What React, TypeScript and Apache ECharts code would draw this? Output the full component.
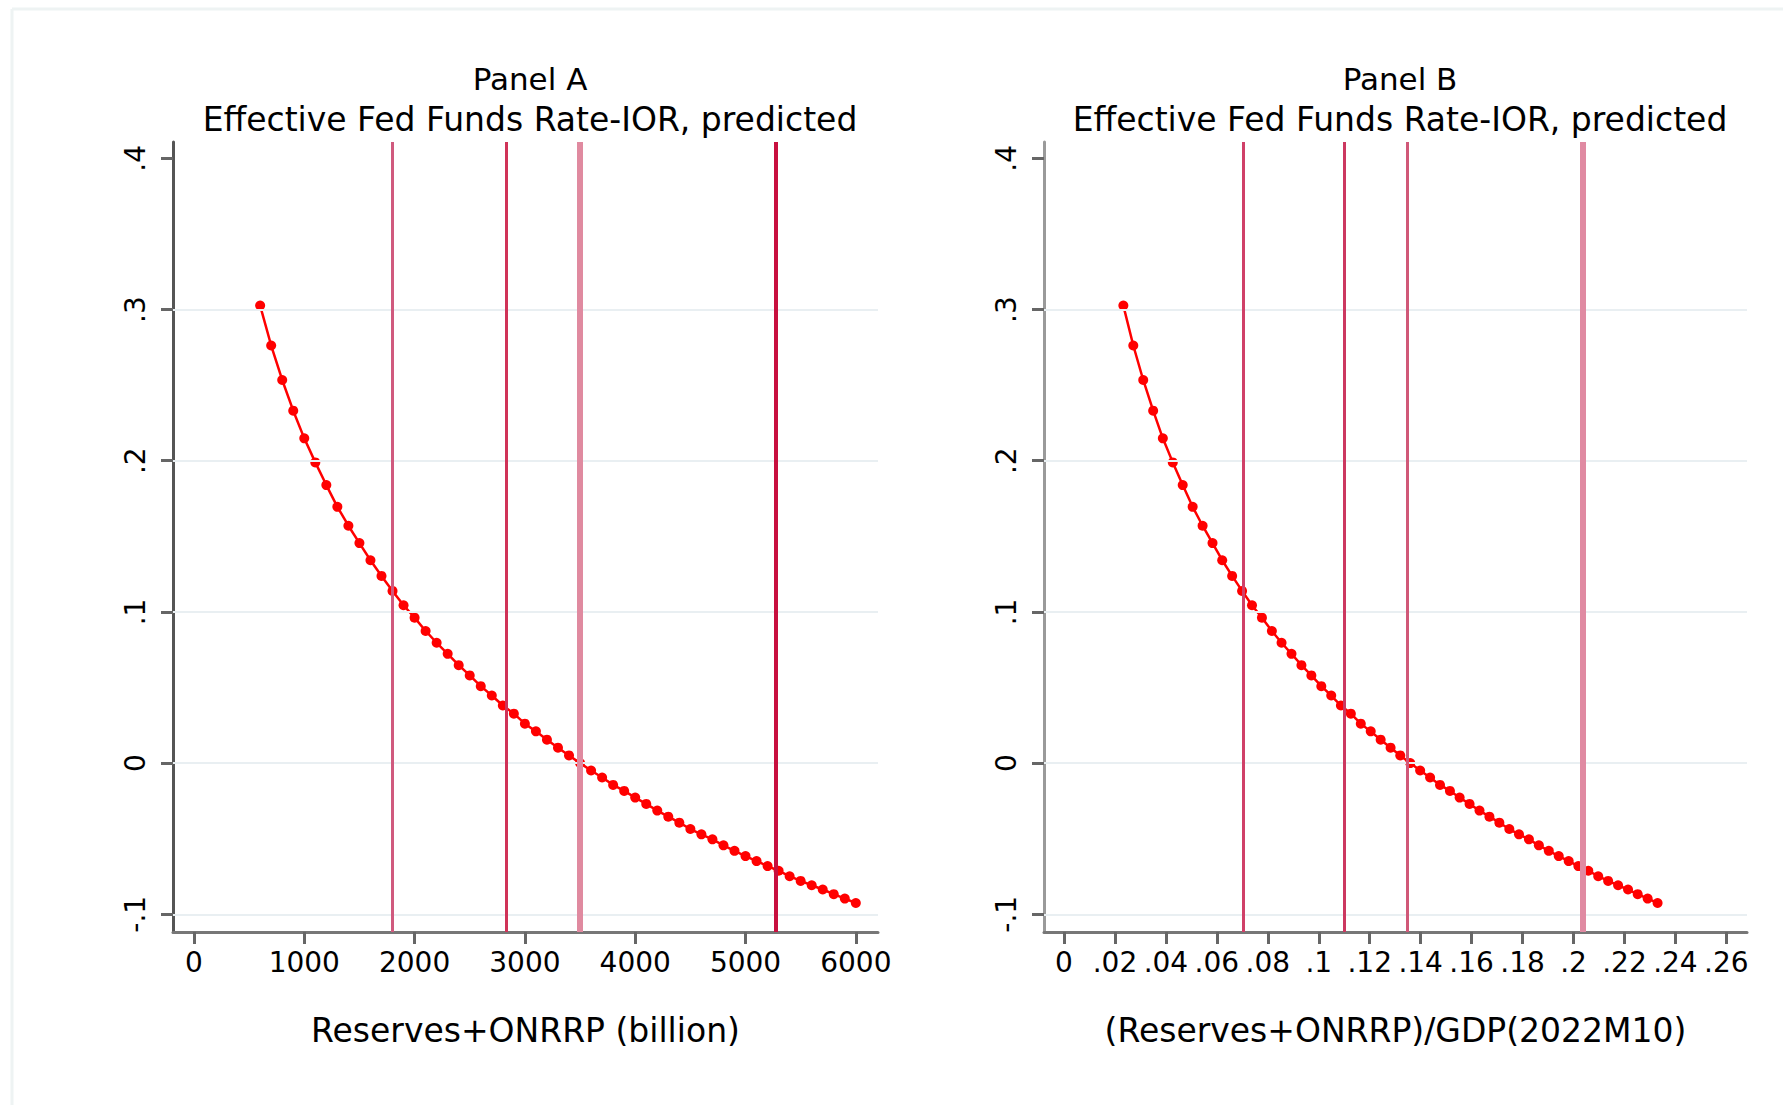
import React, { useEffect, useRef } from "react";
import * as echarts from "echarts";

// Reserves + ONRRP (billion), Panel A x values
const reservesA = [
  600, 700, 800, 900, 1000, 1100, 1200, 1300, 1400, 1500, 1600, 1700, 1800, 1900,
  2000, 2100, 2200, 2300, 2400, 2500, 2600, 2700, 2800, 2900, 3000, 3100, 3200,
  3300, 3400, 3500, 3600, 3700, 3800, 3900, 4000, 4100, 4200, 4300, 4400, 4500,
  4600, 4700, 4800, 4900, 5000, 5100, 5200, 5300, 5400, 5500, 5600, 5700, 5800,
  5900, 6000,
];
// (Reserves + ONRRP)/GDP(2022M10), Panel B x values
const ratioB = [
  0.0233, 0.0272, 0.0311, 0.035, 0.0388, 0.0427, 0.0466, 0.0505, 0.0544, 0.0583,
  0.0621, 0.066, 0.0699, 0.0738, 0.0777, 0.0816, 0.0854, 0.0893, 0.0932, 0.0971,
  0.101, 0.1049, 0.1087, 0.1126, 0.1165, 0.1204, 0.1243, 0.1282, 0.132, 0.1359,
  0.1398, 0.1437, 0.1476, 0.1515, 0.1553, 0.1592, 0.1631, 0.167, 0.1709, 0.1748,
  0.1786, 0.1825, 0.1864, 0.1903, 0.1942, 0.1981, 0.2019, 0.2058, 0.2097, 0.2136,
  0.2175, 0.2214, 0.2252, 0.2291, 0.233,
];
// Effective Fed Funds Rate - IOR, predicted
const predicted = [
  0.3026, 0.2762, 0.2534, 0.2331, 0.2148, 0.1989, 0.1839, 0.1695, 0.157, 0.1455,
  0.1342, 0.1238, 0.1139, 0.1044, 0.0962, 0.0874, 0.0796, 0.0723, 0.0648, 0.058,
  0.0509, 0.0447, 0.0381, 0.0327, 0.0261, 0.021, 0.0155, 0.0102, 0.0051, 0.0,
  -0.0049, -0.0095, -0.0144, -0.0184, -0.0228, -0.027, -0.0314, -0.0354, -0.0394,
  -0.0436, -0.0471, -0.0504, -0.0544, -0.058, -0.0615, -0.0648, -0.0681, -0.0712,
  -0.0748, -0.0779, -0.0808, -0.0836, -0.0867, -0.0896, -0.0925,
];

const vlinesA = [1800, 2835, 3495, 5275];
const vlinesB = [0.0703, 0.1101, 0.1348, 0.2037];
const vlineColorsA = ["#d05a7e", "#d03358", "#e08aa0", "#c8103f"];
const vlineWidthsA = [3, 3, 6, 4];
const vlineColorsB = ["#d04068", "#cc3860", "#d05878", "#e08aa2"];
const vlineWidthsB = [3, 3, 3, 6];

const yTicks = [-0.1, 0, 0.1, 0.2, 0.3, 0.4];
const yGrid = [-0.1, 0, 0.1, 0.2, 0.3];
const xTicksA = [0, 1000, 2000, 3000, 4000, 5000, 6000];
const xTicksB = [0, 0.02, 0.04, 0.06, 0.08, 0.1, 0.12, 0.14, 0.16, 0.18, 0.2, 0.22, 0.24, 0.26];

const titleLine = "Effective Fed Funds Rate-IOR, predicted";
const titleA = "Panel A";
const titleB = "Panel B";
const nameA = "Reserves+ONRRP (billion)";
const nameB = "(Reserves+ONRRP)/GDP(2022M10)";

const FONT = "DejaVu Sans";

function fmtDec(v: number): string {
  const r = Math.round(v * 10000) / 10000;
  if (r === 0) return "0";
  let s = String(r);
  s = s.replace(/^(-?)0\./, "$1.");
  return s;
}

export default function App() {
  const ref = useRef<HTMLDivElement>(null);
  useEffect(() => {
    document.body.style.margin = "0";
    const chart = echarts.init(ref.current!, undefined, { renderer: "svg" });
    const W = 1783;
    const H = 1105;
    const gridTop = 142;
    const gridBottom = H - 932;
    const grids = [
      { left: 173, right: W - 878, top: gridTop, bottom: gridBottom },
      { left: 1044, right: W - 1747, top: gridTop, bottom: gridBottom },
    ];
    const labelStyle = { fontFamily: FONT, fontSize: 28, color: "#000" };
    const mkX = (idx: number, min: number, max: number, ticks: number[], name: string, fmt: (v: number) => string) => ({
      type: "value",
      gridIndex: idx,
      min,
      max,
      name,
      nameLocation: "middle",
      nameGap: 82,
      nameTextStyle: { fontFamily: FONT, fontSize: 33, color: "#000" },
      axisLine: { show: true, onZero: false, lineStyle: { color: "#777", width: 3 } },
      axisTick: { show: true, length: 12, customValues: ticks, lineStyle: { color: "#666", width: 3 } },
      axisLabel: { show: true, customValues: ticks, margin: 16, formatter: (v: number) => fmt(v), ...labelStyle },
      splitLine: { show: false },
    });
    const mkY = (idx: number, axisColor: string) => ({
      type: "value",
      gridIndex: idx,
      min: -0.1117,
      max: 0.4108,
      axisLine: { show: true, onZero: false, lineStyle: { color: axisColor, width: 3 } },
      axisTick: { show: true, length: 12, customValues: yTicks, lineStyle: { color: "#666", width: 3 } },
      axisLabel: { show: true, customValues: yTicks, rotate: 90, margin: 24, formatter: (v: number) => fmtDec(v), ...labelStyle },
      splitLine: { show: false },
    });
    const dataA = reservesA.map((x, i) => [x, predicted[i]]);
    const dataB = ratioB.map((x, i) => [x, predicted[i]]);
    const gridSeries = (idx: number, data: number[][]) => ({
      type: "line",
      xAxisIndex: idx,
      yAxisIndex: idx,
      data,
      z: 1,
      silent: true,
      showSymbol: false,
      lineStyle: { opacity: 0, width: 0 },
      markLine: {
        silent: true,
        symbol: "none",
        precision: 8,
        label: { show: false },
        lineStyle: { color: "#e9eff2", width: 2, type: "solid" },
        data: yGrid.map((y) => ({ yAxis: y })),
      },
    });
    const vSeries = (idx: number, data: number[][], vals: number[], colors: string[], widths: number[]) => ({
      type: "line",
      xAxisIndex: idx,
      yAxisIndex: idx,
      data,
      z: 2,
      silent: true,
      showSymbol: false,
      lineStyle: { opacity: 0, width: 0 },
      markLine: {
        silent: true,
        symbol: "none",
        precision: 8,
        label: { show: false },
        data: vals.map((v, i) => ({ xAxis: v, lineStyle: { color: colors[i], width: widths[i], type: "solid" } })),
      },
    });
    const curve = (idx: number, data: number[][]) => ({
      type: "line",
      xAxisIndex: idx,
      yAxisIndex: idx,
      data,
      z: 3,
      symbol: "circle",
      symbolSize: 10,
      showSymbol: true,
      itemStyle: { color: "#ff0000" },
      lineStyle: { color: "#ff0000", width: 2.5 },
    });
    const titleStyle = {
      fontFamily: FONT,
      fontWeight: "normal",
      color: "#000",
      rich: {
        a: { fontFamily: FONT, fontSize: 31, lineHeight: 40, color: "#000" },
        b: { fontFamily: FONT, fontSize: 33, lineHeight: 40, color: "#000" },
      },
    };
    chart.setOption({
      animation: false,
      backgroundColor: "#fff",
      title: [
        {
          text: "{a|" + titleA + "}\n{b|" + titleLine + "}",
          left: 525,
          top: 54,
          textAlign: "center",
          textStyle: titleStyle,
        },
        {
          text: "{a|" + titleB + "}\n{b|" + titleLine + "}",
          left: 1395,
          top: 54,
          textAlign: "center",
          textStyle: titleStyle,
        },
      ],
      grid: grids,
      xAxis: [
        mkX(0, -190, 6201, xTicksA, nameA, (v) => String(Math.round(v))),
        mkX(1, -0.00785, 0.2681, xTicksB, nameB, fmtDec),
      ],
      yAxis: [mkY(0, "#555"), mkY(1, "#9a9a9a")],
      graphic: [
        { type: "line", shape: { x1: 12, y1: 9, x2: 12, y2: 1105 }, style: { stroke: "#eef3f3", lineWidth: 3 } },
        { type: "line", shape: { x1: 12, y1: 9, x2: 1783, y2: 9 }, style: { stroke: "#eef3f3", lineWidth: 3 } },
      ],
      series: [
        gridSeries(0, dataA),
        gridSeries(1, dataB),
        vSeries(0, dataA, vlinesA, vlineColorsA, vlineWidthsA),
        vSeries(1, dataB, vlinesB, vlineColorsB, vlineWidthsB),
        curve(0, dataA),
        curve(1, dataB),
      ],
    });
    return () => chart.dispose();
  }, []);
  return <div ref={ref} style={{ position: "fixed", left: 0, top: 0, width: 1783, height: 1105 }} />;
}
